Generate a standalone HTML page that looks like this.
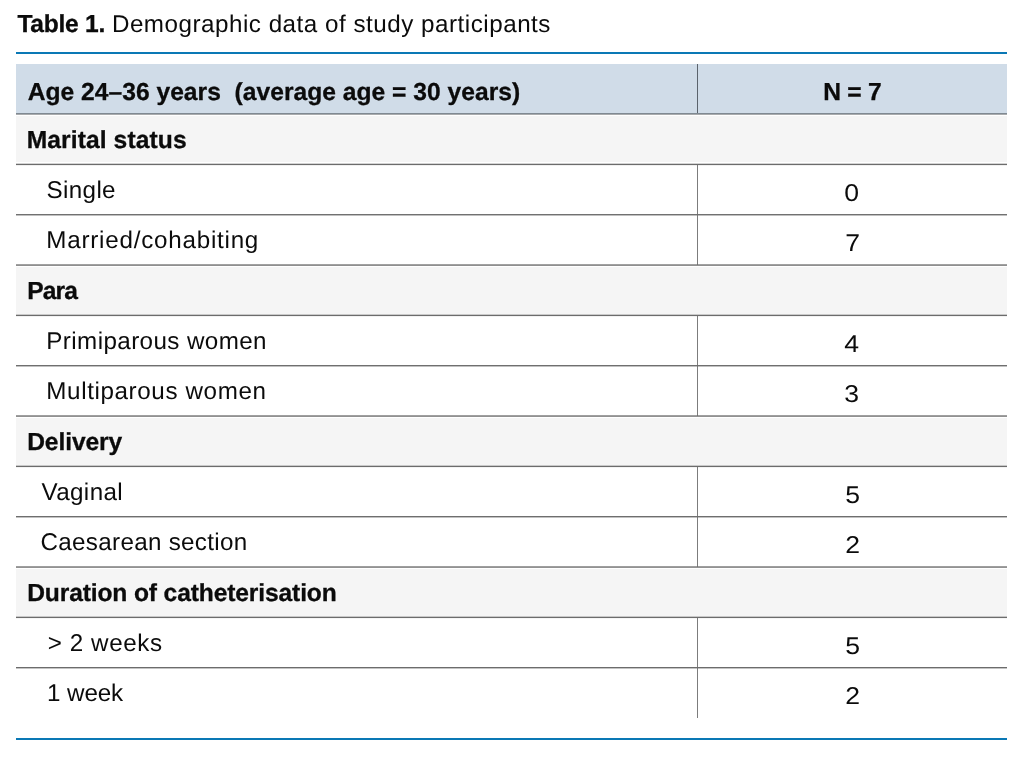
<!DOCTYPE html>
<html><head><meta charset="utf-8"><title>Table 1</title>
<style>
html,body{margin:0;padding:0;background:#fff;}
body{width:1024px;height:758px;position:relative;overflow:hidden;font-family:"Liberation Sans",sans-serif;color:#0b0b0b;}
.bl{position:absolute;left:16px;width:991px;height:2px;background:#0a78b5;}
.bg{position:absolute;left:16px;width:991px;}
.sec{background:#f5f5f5;}
.hd{background:#d0dce8;}
.hl{position:absolute;left:16px;width:991px;height:1px;}
.vl{position:absolute;left:697px;width:1px;background:#7c7c7c;}
.vh{background:#5b636c;}
.t{position:absolute;white-space:nowrap;font-size:24.2px;line-height:30px;}
#tx{position:absolute;left:0;top:0;width:1024px;height:758px;will-change:transform;text-rendering:geometricPrecision;}
.b{font-weight:bold;font-size:24.6px;-webkit-text-stroke:0.3px #0b0b0b;}
</style></head><body>
<div class="bl" style="top:52px"></div>
<div class="bg hd" style="top:64px;height:49px"></div>
<div class="bg sec" style="top:116px;height:46px"></div>
<div class="bg sec" style="top:267px;height:48px"></div>
<div class="bg sec" style="top:418px;height:48px"></div>
<div class="bg sec" style="top:569px;height:48px"></div>
<div class="vl vh" style="top:64px;height:50px"></div>
<div class="vl" style="top:164px;height:50px"></div>
<div class="vl" style="top:214px;height:51px"></div>
<div class="vl" style="top:315px;height:50px"></div>
<div class="vl" style="top:365px;height:51px"></div>
<div class="vl" style="top:466px;height:50px"></div>
<div class="vl" style="top:516px;height:51px"></div>
<div class="vl" style="top:617px;height:50px"></div>
<div class="vl" style="top:667px;height:51px"></div>
<div class="hl" style="top:113px;background:#7f8992"></div><div class="hl" style="top:114px;background:#a9abad"></div>
<div class="hl" style="top:163px;background:rgba(108,108,108,0.30)"></div>
<div class="hl" style="top:164px;background:rgba(108,108,108,1.00)"></div>
<div class="hl" style="top:165px;background:rgba(108,108,108,0.10)"></div>
<div class="hl" style="top:214px;background:rgba(108,108,108,0.97)"></div>
<div class="hl" style="top:215px;background:rgba(108,108,108,0.43)"></div>
<div class="hl" style="top:264px;background:rgba(108,108,108,0.64)"></div>
<div class="hl" style="top:265px;background:rgba(108,108,108,0.76)"></div>
<div class="hl" style="top:314px;background:rgba(108,108,108,0.31)"></div>
<div class="hl" style="top:315px;background:rgba(108,108,108,1.00)"></div>
<div class="hl" style="top:316px;background:rgba(108,108,108,0.09)"></div>
<div class="hl" style="top:365px;background:rgba(108,108,108,0.98)"></div>
<div class="hl" style="top:366px;background:rgba(108,108,108,0.42)"></div>
<div class="hl" style="top:415px;background:rgba(108,108,108,0.65)"></div>
<div class="hl" style="top:416px;background:rgba(108,108,108,0.75)"></div>
<div class="hl" style="top:465px;background:rgba(108,108,108,0.32)"></div>
<div class="hl" style="top:466px;background:rgba(108,108,108,1.00)"></div>
<div class="hl" style="top:467px;background:rgba(108,108,108,0.08)"></div>
<div class="hl" style="top:516px;background:rgba(108,108,108,0.99)"></div>
<div class="hl" style="top:517px;background:rgba(108,108,108,0.41)"></div>
<div class="hl" style="top:566px;background:rgba(108,108,108,0.66)"></div>
<div class="hl" style="top:567px;background:rgba(108,108,108,0.74)"></div>
<div class="hl" style="top:616px;background:rgba(108,108,108,0.33)"></div>
<div class="hl" style="top:617px;background:rgba(108,108,108,1.00)"></div>
<div class="hl" style="top:618px;background:rgba(108,108,108,0.07)"></div>
<div class="hl" style="top:667px;background:rgba(108,108,108,1.00)"></div>
<div class="hl" style="top:668px;background:rgba(108,108,108,0.40)"></div>
<div id="tx">
<div class="t b" id="capb" style="left:17.43px;top:10.00px;letter-spacing:-0.278px">Table 1.</div>
<div class="t" id="caps" style="left:111.92px;top:10.00px;letter-spacing:0.515px">Demographic data of study participants</div>
<div class="t b" id="t0" style="left:27.69px;top:78.00px;letter-spacing:0.024px">Age 24–36 years&nbsp; (average age = 30 years)</div>
<div class="t b" id="n0" style="left:823.21px;top:78.00px;letter-spacing:-0.223px">N = 7</div>
<div class="t b" id="t1" style="left:26.69px;top:126.00px;letter-spacing:0.104px">Marital status</div>
<div class="t" id="t2" style="left:46.62px;top:176.00px;letter-spacing:0.344px">Single</div>
<div class="t" id="n2" style="left:845.36px;top:179.00px;letter-spacing:0.000px;transform:scaleX(1.1)">0</div>
<div class="t" id="t3" style="left:46.34px;top:226.00px;letter-spacing:0.765px">Married/cohabiting</div>
<div class="t" id="n3" style="left:845.78px;top:229.00px;letter-spacing:0.000px;transform:scaleX(1.1)">7</div>
<div class="t b" id="t4" style="left:27.21px;top:277.00px;letter-spacing:-0.830px">Para</div>
<div class="t" id="t5" style="left:46.34px;top:327.00px;letter-spacing:0.405px">Primiparous women</div>
<div class="t" id="n5" style="left:845.41px;top:330.00px;letter-spacing:0.000px;transform:scaleX(1.1)">4</div>
<div class="t" id="t6" style="left:46.34px;top:377.00px;letter-spacing:0.617px">Multiparous women</div>
<div class="t" id="n6" style="left:845.42px;top:380.00px;letter-spacing:0.000px;transform:scaleX(1.1)">3</div>
<div class="t b" id="t7" style="left:27.21px;top:428.00px;letter-spacing:-0.093px">Delivery</div>
<div class="t" id="t8" style="left:41.42px;top:478.00px;letter-spacing:0.403px">Vaginal</div>
<div class="t" id="n8" style="left:845.69px;top:481.00px;letter-spacing:0.000px;transform:scaleX(1.1)">5</div>
<div class="t" id="t9" style="left:40.60px;top:528.00px;letter-spacing:0.302px">Caesarean section</div>
<div class="t" id="n9" style="left:845.55px;top:531.00px;letter-spacing:0.000px;transform:scaleX(1.1)">2</div>
<div class="t b" id="t10" style="left:27.21px;top:579.00px;letter-spacing:-0.130px">Duration of catheterisation</div>
<div class="t" id="t11" style="left:47.70px;top:629.00px;letter-spacing:0.592px">&gt; 2 weeks</div>
<div class="t" id="n11" style="left:845.69px;top:632.00px;letter-spacing:0.000px;transform:scaleX(1.1)">5</div>
<div class="t" id="t12" style="left:47.07px;top:679.00px;letter-spacing:-0.101px">1 week</div>
<div class="t" id="n12" style="left:845.55px;top:682.00px;letter-spacing:0.000px;transform:scaleX(1.1)">2</div>
</div>
<div class="bl" style="top:738px"></div>
</body></html>
